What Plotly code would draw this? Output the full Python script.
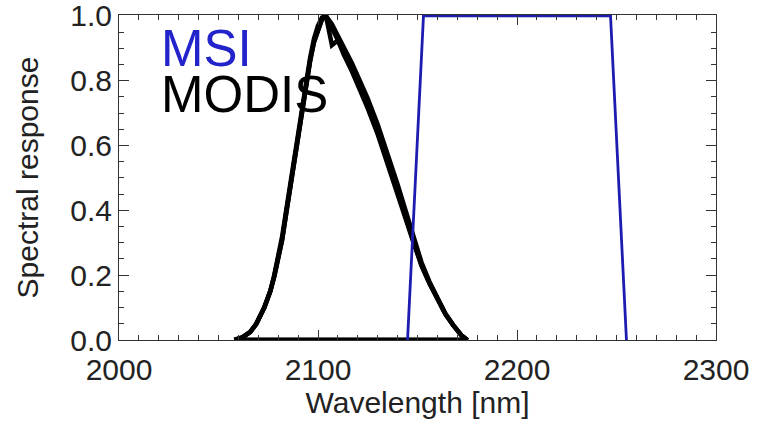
import plotly.graph_objects as go

# ---- data ----
msi_wl = [2145, 2153, 2247, 2255]
msi_resp = [0.0, 1.0, 1.0, 0.0]

modis_wl = [2058, 2062, 2066, 2069, 2073, 2076, 2078, 2080, 2082, 2084, 2086, 2088,
            2090, 2092, 2094, 2096, 2098, 2100, 2102, 2104,
            2107, 2110, 2113, 2117, 2121, 2125, 2130, 2135, 2140, 2144, 2148, 2152,
            2156, 2160, 2164, 2168, 2172, 2175]
modis_det1 = [0.0, 0.008, 0.025, 0.05, 0.10, 0.15, 0.195, 0.25, 0.31, 0.39, 0.47, 0.55,
              0.63, 0.71, 0.79, 0.86, 0.92, 0.96, 0.99, 1.0,
              0.965, 0.925, 0.885, 0.835, 0.78, 0.72, 0.64, 0.55, 0.455, 0.38, 0.30, 0.23,
              0.175, 0.125, 0.08, 0.045, 0.015, 0.0]
modis_det2 = [0.0, 0.008, 0.025, 0.05, 0.10, 0.15, 0.20, 0.26, 0.32, 0.40, 0.48, 0.56,
              0.64, 0.72, 0.80, 0.87, 0.93, 0.97, 0.995, 1.0,
              0.975, 0.94, 0.90, 0.855, 0.80, 0.745, 0.665, 0.575, 0.48, 0.40, 0.315, 0.24,
              0.18, 0.128, 0.082, 0.046, 0.015, 0.0]
modis_det3 = [0.0, 0.008, 0.025, 0.05, 0.10, 0.15, 0.195, 0.25, 0.31, 0.39, 0.47, 0.55,
              0.63, 0.71, 0.79, 0.86, 0.92, 0.96, 0.99, 1.0,
              0.91, 0.925, 0.88, 0.83, 0.775, 0.715, 0.635, 0.545, 0.45, 0.375, 0.30, 0.23,
              0.175, 0.125, 0.08, 0.045, 0.015, 0.0]
modis_dets = [modis_det1, modis_det2, modis_det3]

x_ticks = [2000, 2100, 2200, 2300]
y_ticks = [0.0, 0.2, 0.4, 0.6, 0.8, 1.0]
y_ticklabels = ["0.0", "0.2", "0.4", "0.6", "0.8", "1.0"]

FONT = "Liberation Sans, Arial, Helvetica, sans-serif"
BLUE = "#1c1cb0"

fig = go.Figure()

for det in modis_dets:
    fig.add_trace(go.Scatter(
        x=modis_wl + [modis_wl[0]], y=det + [det[0]],
        mode="lines", line=dict(color="black", width=4.5),
        showlegend=False, hoverinfo="skip"))

fig.add_trace(go.Scatter(
    x=msi_wl, y=msi_resp, mode="lines",
    line=dict(color=BLUE, width=2.8), showlegend=False))

fig.add_annotation(x=2020, y=0.90, xref="x", yref="y", text="MSI",
                   showarrow=False, xanchor="left", yanchor="middle", height=44,
                   font=dict(family=FONT, size=51, color="#2323cc"))
fig.add_annotation(x=2020, y=0.758, xref="x", yref="y", text="MODIS",
                   showarrow=False, xanchor="left", yanchor="middle", height=44,
                   font=dict(family=FONT, size=51, color="black"))

axis_common = dict(
    showline=True, linecolor="#333333", linewidth=1, mirror="ticks",
    ticks="inside", tickcolor="#333333", tickwidth=1,
    showgrid=False, zeroline=False, ticklabeloverflow="allow",
    tickfont=dict(family=FONT, size=30, color="#222222"),
)

fig.update_xaxes(
    range=[2000, 2300], autorange=False, tickvals=x_ticks, ticklen=10,
    ticklabelstandoff=3,
    minor=dict(dtick=10, tick0=2000, ticks="inside", ticklen=5,
               tickcolor="#333333", showgrid=False),
    title=dict(text="Wavelength [nm]", font=dict(family=FONT, size=30, color="#222222"),
               standoff=1),
    **axis_common)
fig.update_yaxes(
    range=[0, 1.003], autorange=False, tickvals=y_ticks, ticktext=y_ticklabels, ticklen=10,
    minor=dict(dtick=0.05, tick0=0, ticks="inside", ticklen=5,
               tickcolor="#333333", showgrid=False),
    title=dict(text="Spectral response", font=dict(family=FONT, size=30, color="#222222"),
               standoff=22),
    **axis_common)

fig.update_layout(
    width=759, height=424,
    margin=dict(l=119, r=43, t=15, b=84, autoexpand=False),
    paper_bgcolor="white", plot_bgcolor="white",
    showlegend=False,
)

fig.write_html("out.html", config={"displayModeBar": False},
               post_script="document.body.style.margin='0';document.body.style.padding='0';"
                           "document.body.style.overflow='hidden';")
